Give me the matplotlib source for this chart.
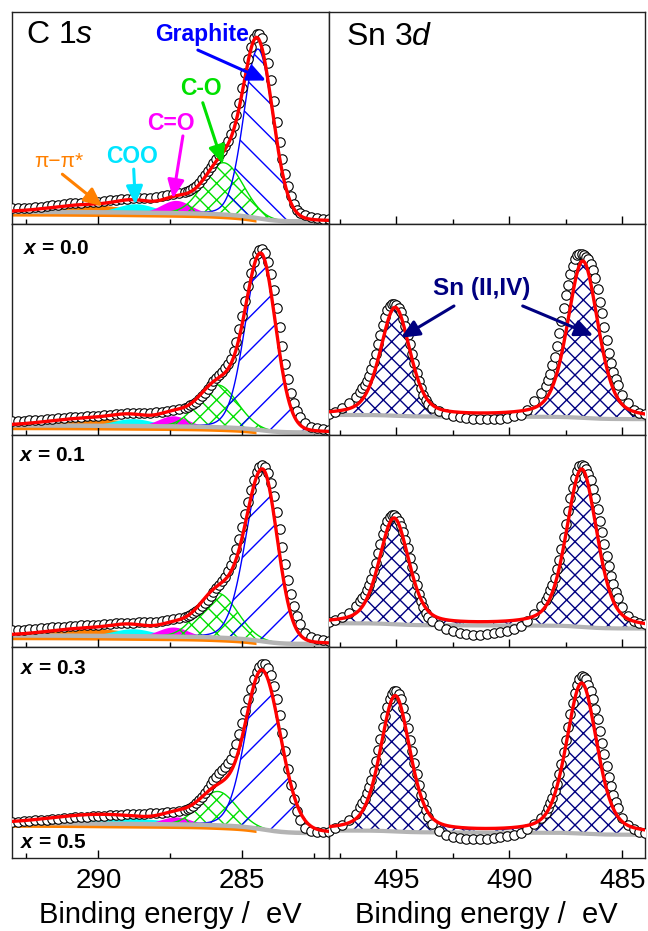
import numpy as np
import matplotlib
matplotlib.use("Agg")
import matplotlib.pyplot as plt
from matplotlib.ticker import MultipleLocator

plt.rcParams['font.family'] = ['Liberation Sans', 'DejaVu Sans']
plt.rcParams['mathtext.fontset'] = 'custom'
plt.rcParams['mathtext.rm'] = 'Liberation Sans'
plt.rcParams['mathtext.it'] = 'Liberation Sans:italic'
plt.rcParams['mathtext.bf'] = 'Liberation Sans:bold'
plt.rcParams['mathtext.bfit'] = 'Liberation Sans:italic:bold'
plt.rcParams['hatch.linewidth'] = 1.0

# measurement grids (eV), finer step around the peaks
E_C = np.round(np.concatenate([np.arange(293.0, 287.1, -0.2),
                               np.arange(287.0, 282.95, -0.1),
                               np.arange(282.8, 281.95, -0.2)]), 2)
E_SN = np.round(np.concatenate([np.arange(498.0, 496.75, -0.3),
                                np.arange(496.6, 493.55, -0.1),
                                np.arange(493.4, 488.55, -0.3),
                                np.arange(488.4, 485.15, -0.1),
                                np.arange(485.0, 483.9, -0.25)]), 2)

# ---- C 1s measured intensity (normalised to panel height), rows top -> bottom
c1s_row1 = [0.071, 0.072, 0.074, 0.075, 0.078, 0.080, 0.083, 0.086, 0.089, 0.092,
            0.095, 0.097, 0.099, 0.101, 0.103, 0.104, 0.106, 0.109, 0.112, 0.115,
            0.118, 0.120, 0.121, 0.120, 0.121, 0.124, 0.129, 0.134, 0.139, 0.145,
            0.150, 0.154, 0.160, 0.168, 0.178, 0.192, 0.210, 0.228, 0.248, 0.268,
            0.288, 0.306, 0.325, 0.343, 0.365, 0.392, 0.423, 0.462, 0.512, 0.572,
            0.640, 0.710, 0.780, 0.836, 0.875, 0.898, 0.895, 0.875, 0.825, 0.760,
            0.680, 0.580, 0.480, 0.385, 0.305, 0.235, 0.175, 0.128, 0.092, 0.066,
            0.050, 0.038, 0.030, 0.025, 0.021, 0.020]
c1s_row2 = [0.066, 0.067, 0.068, 0.069, 0.071, 0.073, 0.075, 0.077, 0.079, 0.081,
            0.083, 0.085, 0.087, 0.089, 0.091, 0.092, 0.094, 0.096, 0.098, 0.100,
            0.102, 0.103, 0.104, 0.105, 0.106, 0.108, 0.110, 0.113, 0.117, 0.121,
            0.130, 0.134, 0.140, 0.148, 0.158, 0.170, 0.184, 0.200, 0.218, 0.236,
            0.254, 0.270, 0.285, 0.300, 0.316, 0.335, 0.360, 0.395, 0.440, 0.500,
            0.565, 0.635, 0.705, 0.768, 0.818, 0.855, 0.875, 0.878, 0.860, 0.820,
            0.760, 0.685, 0.600, 0.510, 0.420, 0.338, 0.265, 0.200, 0.150, 0.112,
            0.085, 0.055, 0.040, 0.032, 0.028, 0.026]
c1s_row3 = [0.076, 0.078, 0.080, 0.082, 0.084, 0.086, 0.088, 0.090, 0.092, 0.094,
            0.096, 0.098, 0.100, 0.102, 0.103, 0.104, 0.106, 0.107, 0.109, 0.110,
            0.112, 0.113, 0.114, 0.115, 0.116, 0.118, 0.120, 0.123, 0.128, 0.134,
            0.140, 0.144, 0.150, 0.157, 0.166, 0.177, 0.190, 0.205, 0.222, 0.240,
            0.258, 0.275, 0.292, 0.310, 0.330, 0.355, 0.385, 0.420, 0.462, 0.510,
            0.565, 0.625, 0.685, 0.740, 0.788, 0.825, 0.850, 0.858, 0.850, 0.822,
            0.775, 0.712, 0.638, 0.555, 0.470, 0.390, 0.315, 0.250, 0.192, 0.145,
            0.108, 0.065, 0.045, 0.035, 0.030, 0.028]
c1s_row4 = [0.170, 0.172, 0.174, 0.176, 0.178, 0.180, 0.182, 0.184, 0.186, 0.188,
            0.190, 0.192, 0.194, 0.196, 0.197, 0.198, 0.200, 0.201, 0.203, 0.205,
            0.206, 0.208, 0.209, 0.210, 0.211, 0.213, 0.215, 0.217, 0.219, 0.222,
            0.226, 0.230, 0.237, 0.246, 0.258, 0.272, 0.290, 0.308, 0.328, 0.348,
            0.368, 0.385, 0.400, 0.415, 0.430, 0.448, 0.470, 0.500, 0.540, 0.588,
            0.640, 0.695, 0.750, 0.800, 0.845, 0.880, 0.905, 0.918, 0.918, 0.900,
            0.865, 0.815, 0.750, 0.675, 0.590, 0.505, 0.420, 0.345, 0.278, 0.222,
            0.180, 0.140, 0.128, 0.124, 0.123, 0.122]

# ---- Sn 3d measured intensity, rows 2-4 (row 1 has no tin)
sn3d_row2 = [0.10, 0.11, 0.13, 0.15, 0.18,
             0.205, 0.22, 0.235, 0.255, 0.28, 0.31, 0.345, 0.385, 0.43, 0.475,
             0.52, 0.56, 0.59, 0.61, 0.62, 0.62, 0.615, 0.60, 0.58, 0.55,
             0.515, 0.475, 0.43, 0.385, 0.34, 0.295, 0.255, 0.22, 0.19, 0.165, 0.145,
             0.13, 0.115, 0.10, 0.09, 0.085, 0.08, 0.078, 0.075, 0.075, 0.076,
             0.078, 0.082, 0.088, 0.095, 0.12, 0.16, 0.20,
             0.23, 0.26, 0.29, 0.33, 0.37, 0.42, 0.48, 0.54, 0.60, 0.66,
             0.71, 0.76, 0.80, 0.83, 0.85, 0.855, 0.855, 0.85, 0.84, 0.83,
             0.81, 0.78, 0.74, 0.69, 0.63, 0.575, 0.51, 0.45, 0.39, 0.34,
             0.30, 0.265, 0.235,
             0.19, 0.15, 0.12, 0.105, 0.10]
sn3d_row3 = [0.115, 0.125, 0.14, 0.16, 0.19,
             0.215, 0.23, 0.245, 0.265, 0.29, 0.32, 0.355, 0.395, 0.44, 0.485,
             0.53, 0.565, 0.595, 0.612, 0.62, 0.62, 0.61, 0.595, 0.57, 0.54,
             0.505, 0.465, 0.42, 0.375, 0.33, 0.29, 0.25, 0.215, 0.185, 0.16, 0.14,
             0.12, 0.10, 0.085, 0.075, 0.065, 0.06, 0.055, 0.055, 0.058, 0.062,
             0.068, 0.075, 0.085, 0.098, 0.12, 0.155, 0.19,
             0.22, 0.24, 0.265, 0.29, 0.325, 0.365, 0.41, 0.46, 0.52, 0.58,
             0.64, 0.70, 0.75, 0.795, 0.83, 0.852, 0.858, 0.855, 0.84, 0.815,
             0.785, 0.745, 0.70, 0.65, 0.595, 0.54, 0.485, 0.43, 0.38, 0.335,
             0.295, 0.26, 0.23,
             0.185, 0.145, 0.12, 0.11, 0.105]
sn3d_row4 = [0.13, 0.14, 0.155, 0.18, 0.21,
             0.24, 0.26, 0.28, 0.305, 0.335, 0.37, 0.41, 0.46, 0.51, 0.565,
             0.62, 0.67, 0.715, 0.75, 0.775, 0.79, 0.79, 0.775, 0.75, 0.71,
             0.665, 0.615, 0.56, 0.505, 0.45, 0.395, 0.345, 0.30, 0.26, 0.225, 0.195,
             0.16, 0.13, 0.11, 0.10, 0.095, 0.09, 0.088, 0.088, 0.09, 0.093,
             0.097, 0.103, 0.11, 0.12, 0.135, 0.16, 0.19,
             0.215, 0.235, 0.26, 0.285, 0.315, 0.35, 0.395, 0.445, 0.50, 0.56,
             0.62, 0.68, 0.735, 0.78, 0.82, 0.848, 0.86, 0.858, 0.845, 0.82,
             0.79, 0.75, 0.705, 0.655, 0.60, 0.545, 0.49, 0.435, 0.385, 0.34,
             0.30, 0.265, 0.235,
             0.19, 0.155, 0.135, 0.125, 0.12]

# ---- fitted C 1s components: pi-pi*, COO, C=O, C-O, graphite
c_centers = [[290.3, 288.7, 287.3, 285.65, 284.45],
             [290.3, 288.8, 287.4, 285.85, 284.34],
             [290.3, 288.8, 287.4, 285.85, 284.28],
             [290.5, 289.5, 287.3, 285.85, 284.30]]
c_heights = [[0.035, 0.042, 0.060, 0.245, 0.80],
             [0.035, 0.035, 0.050, 0.200, 0.82],
             [0.035, 0.035, 0.045, 0.210, 0.80],
             [0.015, 0.030, 0.035, 0.160, 0.745]]
c_hw_left = [[1.5, 0.75, 0.6, 0.80, 0.58],
             [1.6, 0.80, 0.6, 0.80, 0.65],
             [1.6, 0.80, 0.6, 0.80, 0.70],
             [1.8, 2.00, 0.6, 0.75, 0.68]]
c_hw_right = [[1.5, 0.75, 0.6, 0.80, 0.62],
              [1.6, 0.80, 0.6, 0.80, 0.60],
              [1.6, 0.80, 0.6, 0.80, 0.60],
              [1.8, 2.00, 0.6, 0.75, 0.75]]
c_eta = [0.0, 0.0, 0.0, 0.0, 0.1]
c_background = [(0.055, 0.010), (0.045, 0.012), (0.052, 0.012), (0.165, 0.118)]

# ---- fitted Sn 3d doublet (3d3/2, 3d5/2), rows 2-4
sn_centers = [[495.05, 486.75], [495.10, 486.80], [495.05, 486.80]]
sn_heights = [[0.51, 0.74], [0.50, 0.745], [0.64, 0.71]]
sn_hw = [0.775, 0.80]
sn_eta = 0.4
sn_background = [(0.095, 0.075), (0.110, 0.085), (0.130, 0.110)]

row_labels = [None, '0.0', '0.1', '0.3']


def peak(E, center, height, hw_left, hw_right, eta):
    hw = np.where(E >= center, hw_left, hw_right)
    u = (E - center) / hw
    return height * ((1 - eta) * 2.0 ** (-u ** 2) + eta / (1 + u ** 2))


def shirley(E, total, b_left, b_right):
    cum = np.cumsum(total[::-1])[::-1]
    return b_right + (b_left - b_right) * cum / cum[0]


E_FIT_C = np.linspace(293, 282, 551)
E_FIT_SN = np.linspace(498, 484, 701)


def draw_c1s(ax, row, data):
    comps = [peak(E_FIT_C, c, h, l, r, e) for c, h, l, r, e in
             zip(c_centers[row], c_heights[row], c_hw_left[row], c_hw_right[row], c_eta)]
    total = np.sum(comps, axis=0)
    bg = shirley(E_FIT_C, total, *c_background[row])
    ax.fill_between(E_FIT_C, bg - 0.02, bg + comps[0], where=E_FIT_C > 284.5,
                    color='#ff8000', lw=0, zorder=1)
    ax.fill_between(E_FIT_C, bg, bg + comps[1], where=comps[1] > 0.002,
                    color='#00ffff', lw=0, zorder=1.1)
    ax.fill_between(E_FIT_C, bg, bg + comps[2], where=comps[2] > 0.002,
                    color='#ff00ff', lw=0, zorder=1.2)
    ax.fill_between(E_FIT_C, bg, bg + comps[3], where=comps[3] > 0.003,
                    facecolor='none', edgecolor='#00e000', hatch='xx', lw=1.0, zorder=1.3)
    ax.fill_between(E_FIT_C, bg, bg + comps[4], where=comps[4] > 0.004,
                    facecolor='none', edgecolor='#0000ff', hatch='\\' if row == 0 else '/',
                    lw=1.0, zorder=1.4)
    ax.plot(E_FIT_C, bg, color='#b4b4b4', lw=3.2, zorder=2)
    ax.plot(E_C, data, 'o', ms=6.8, mfc='white', mec='black', mew=0.8, zorder=3)
    ax.plot(E_FIT_C, bg + total, color='red', lw=2.4, zorder=4)


def draw_sn3d(ax, idx, data):
    comps = [peak(E_FIT_SN, c, h, w, w, sn_eta) for c, h, w in
             zip(sn_centers[idx], sn_heights[idx], sn_hw)]
    total = np.sum(comps, axis=0)
    bg = shirley(E_FIT_SN, total, *sn_background[idx])
    for comp in comps:
        ax.fill_between(E_FIT_SN, bg, bg + comp, where=comp > 0.012,
                        facecolor='none', edgecolor='#000080', hatch='xx', lw=0.6, zorder=1)
    ax.plot(E_FIT_SN, bg, color='#b4b4b4', lw=3.0, zorder=2)
    ax.plot(E_SN, data, 'o', ms=6.8, mfc='white', mec='black', mew=0.8, zorder=3)
    ax.plot(E_FIT_SN, bg + total, color='red', lw=2.4, zorder=4)


fig, axes = plt.subplots(4, 2, figsize=(6.48, 9.31), dpi=100,
                         gridspec_kw=dict(left=12 / 648, right=645 / 648,
                                          top=1 - 12 / 931, bottom=1 - 858 / 931,
                                          hspace=0, wspace=0))

c_data = [c1s_row1, c1s_row2, c1s_row3, c1s_row4]
sn_data = [sn3d_row2, sn3d_row3, sn3d_row4]

for row in range(4):
    draw_c1s(axes[row, 0], row, np.array(c_data[row]))
    if row > 0:
        draw_sn3d(axes[row, 1], row - 1, np.array(sn_data[row - 1]))

for row in range(4):
    for col in range(2):
        ax = axes[row, col]
        ax.set_xlim((293, 282) if col == 0 else (498, 484))
        ax.set_ylim(0, 1)
        ax.set_yticks([])
        ax.xaxis.set_major_locator(MultipleLocator(5))
        ax.xaxis.set_minor_locator(MultipleLocator(2.5))
        ax.tick_params(axis='x', which='both', direction='in', top=False,
                       labelbottom=(row == 3), labelsize=20, pad=7, width=1)
        ax.tick_params(axis='x', which='major', length=6)
        ax.tick_params(axis='x', which='minor', length=3.5)
        for sp in ax.spines.values():
            sp.set_linewidth(1.0)
            sp.set_color('#222222')
        if row == 3:
            ax.set_xlabel('Binding energy /  eV', fontsize=21, labelpad=5)

# panel titles and composition labels
axes[0, 0].text(0.045, 0.89, r'C 1$\mathit{s}$', transform=axes[0, 0].transAxes,
                fontsize=23, ha='left', va='center')
axes[0, 1].text(0.054, 0.88, r'Sn 3$\mathit{d}$', transform=axes[0, 1].transAxes,
                fontsize=23, ha='left', va='center')
label_pos = {1: (0.034, 0.883), 2: (0.022, 0.905), 3: (0.025, 0.896)}
for row, lab in enumerate(row_labels):
    if lab is None:
        continue
    x, y = label_pos[row]
    axes[row, 0].text(x, y, r'$\mathbfit{x}$ = ' + lab, transform=axes[row, 0].transAxes,
                      fontsize=15, fontweight='bold', ha='left', va='center')
axes[3, 0].text(0.025, 0.071, r'$\mathbfit{x}$ = 0.5', transform=axes[3, 0].transAxes,
                fontsize=15, fontweight='bold', ha='left', va='center')

# component annotations (C 1s, top panel)
annots = [('Graphite', '#0000ff', 'bold', (286.40, 0.895), (286.54, 0.82), (284.17, 0.676)),
          ('C-O', '#00e000', 'bold', (286.44, 0.638), (286.37, 0.571), (285.67, 0.281)),
          ('C=O', '#ff00ff', 'bold', (287.48, 0.471), (287.06, 0.414), (287.41, 0.119)),
          ('COO', '#00e5ff', 'bold', (288.84, 0.319), (288.77, 0.257), (288.71, 0.090)),
          ('π−π*', '#ff8000', 'normal', (291.39, 0.295), (291.25, 0.233), (289.86, 0.081))]
ax0 = axes[0, 0]
for text, color, weight, tpos, tail, tip in annots:
    ax0.text(*tpos, text, color=color, fontweight=weight,
             fontsize=16.5 if weight == 'bold' else 15,
             ha='center', va='center', zorder=6)
    ax0.annotate('', xy=tip, xytext=tail, zorder=6,
                 arrowprops=dict(arrowstyle='-|>,head_length=0.55,head_width=0.25',
                                 mutation_scale=20, color=color, lw=2.2,
                                 shrinkA=0, shrinkB=0))

ax_sn = axes[1, 1]
ax_sn.text(491.22, 0.695, 'Sn (II,IV)', color='#000080', fontweight='bold', fontsize=17.5,
           ha='center', va='center', zorder=6)
for tail, tip in [((492.45, 0.61), (494.79, 0.46)), ((489.41, 0.61), (486.29, 0.47))]:
    ax_sn.annotate('', xy=tip, xytext=tail, zorder=6,
                   arrowprops=dict(arrowstyle='-|>,head_length=0.55,head_width=0.25',
                                   mutation_scale=20, color='#000080', lw=2.2,
                                   shrinkA=0, shrinkB=0))

fig.savefig('out.png', dpi=100)
